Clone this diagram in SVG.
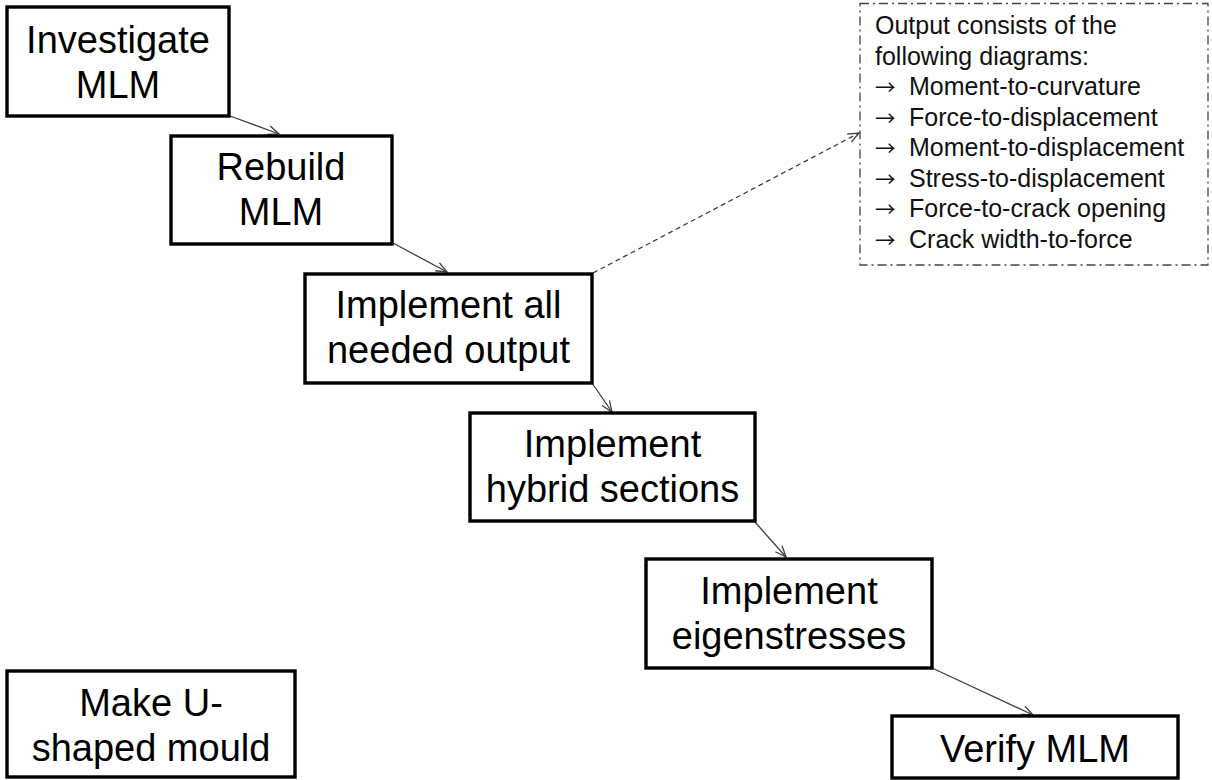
<svg xmlns="http://www.w3.org/2000/svg" width="1212" height="780" viewBox="0 0 1212 780">
<style>
.box{fill:#fff;stroke:#000;stroke-width:3.4}
.t{font-family:"Liberation Sans",Arial,sans-serif;font-size:38px;fill:#000;text-anchor:middle}
.n{font-family:"Liberation Sans",Arial,sans-serif;font-size:25px;fill:#111}
.a{font-family:"Noto Sans CJK SC","DejaVu Sans",sans-serif;font-size:20.5px}
.c{fill:none;stroke:#404040;stroke-width:1.3}
.d{stroke-dasharray:5 3.5}
</style>
<defs>
<marker id="ah" markerWidth="14" markerHeight="14" refX="12" refY="7" orient="auto" markerUnits="userSpaceOnUse">
<path d="M1,2.5 L12,7 L1,11.5" fill="none" stroke="#404040" stroke-width="1.3"/>
</marker>
</defs>
<rect width="1212" height="780" fill="#fff"/>
<g id="connectors">
<line class="c" x1="230" y1="116" x2="279" y2="134" marker-end="url(#ah)"/>
<line class="c" x1="393" y1="243" x2="447" y2="272" marker-end="url(#ah)"/>
<line class="c" x1="592" y1="383" x2="612" y2="412" marker-end="url(#ah)"/>
<line class="c" x1="755" y1="522" x2="786" y2="557" marker-end="url(#ah)"/>
<line class="c" x1="932" y1="668" x2="1033" y2="715" marker-end="url(#ah)"/>
<line class="c d" x1="593" y1="273" x2="859" y2="133" marker-end="url(#ah)"/>
</g>
<g id="n1"><rect class="box" x="7" y="7" width="222" height="109"/><text class="t" x="118" y="53">Investigate</text><text class="t" x="118" y="98">MLM</text></g>
<g id="n2"><rect class="box" x="171" y="136" width="221" height="108"/><text class="t" x="281" y="180">Rebuild</text><text class="t" x="281" y="225">MLM</text></g>
<g id="n3"><rect class="box" x="305" y="274" width="287" height="109"/><text class="t" x="448.5" y="318">Implement all</text><text class="t" x="448.5" y="363">needed output</text></g>
<g id="n4"><rect class="box" x="470" y="413" width="285" height="108"/><text class="t" x="612.5" y="457">Implement</text><text class="t" x="612.5" y="502">hybrid sections</text></g>
<g id="n5"><rect class="box" x="646" y="559" width="286" height="109"/><text class="t" x="789" y="604">Implement</text><text class="t" x="789" y="649">eigenstresses</text></g>
<g id="n6"><rect class="box" x="892" y="716" width="286" height="62"/><text class="t" x="1035" y="762">Verify MLM</text></g>
<g id="n7"><rect class="box" x="7" y="671" width="288" height="106"/><text class="t" x="151" y="716">Make U-</text><text class="t" x="151" y="761">shaped mould</text></g>
<g id="note">
<rect x="860" y="3.5" width="348" height="261.5" fill="none" stroke="#444" stroke-width="1.3" stroke-dasharray="9 4 2 4"/>
<text class="n" x="875" y="34">Output consists of the</text>
<text class="n" x="875" y="64.5">following diagrams:</text>
<text class="n" x="875" y="95"><tspan class="a">→</tspan><tspan x="909">Moment-to-curvature</tspan></text>
<text class="n" x="875" y="125.5"><tspan class="a">→</tspan><tspan x="909">Force-to-displacement</tspan></text>
<text class="n" x="875" y="156"><tspan class="a">→</tspan><tspan x="909">Moment-to-displacement</tspan></text>
<text class="n" x="875" y="186.5"><tspan class="a">→</tspan><tspan x="909">Stress-to-displacement</tspan></text>
<text class="n" x="875" y="217"><tspan class="a">→</tspan><tspan x="909">Force-to-crack opening</tspan></text>
<text class="n" x="875" y="247.5"><tspan class="a">→</tspan><tspan x="909">Crack width-to-force</tspan></text>
</g>
</svg>
